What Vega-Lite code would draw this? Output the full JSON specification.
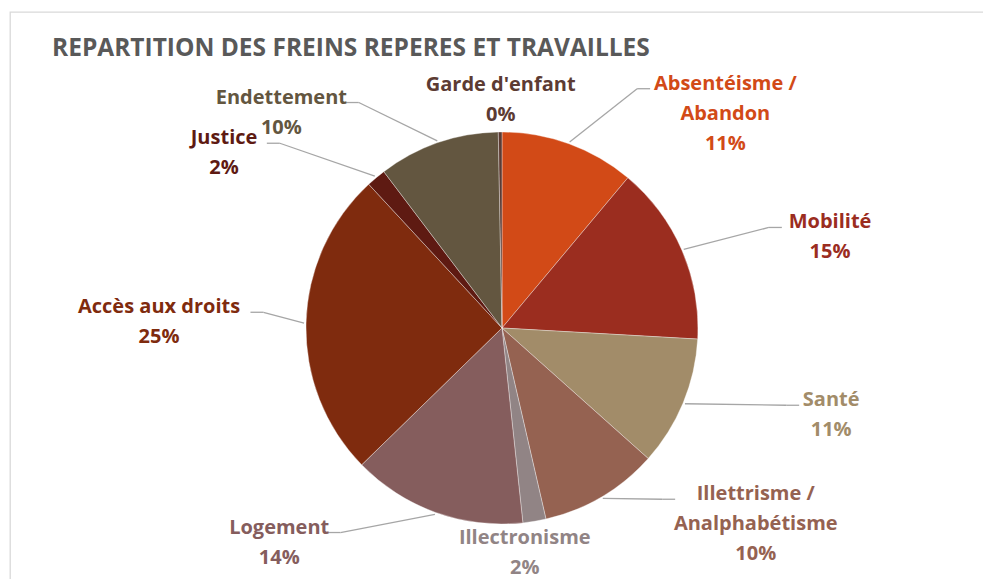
{
  "$schema": "https://vega.github.io/schema/vega-lite/v6.json",
  "width": 976,
  "height": 570,
  "autosize": {"type": "none"},
  "padding": {"left": 10, "top": 12, "right": -3, "bottom": -3},
  "background": "white",
  "config": {
    "view": {"stroke": "#D9D9D9", "strokeWidth": 1.3},
    "font": "Open Sans"
  },
  "title": {
    "text": "REPARTITION DES FREINS REPERES ET TRAVAILLES",
    "anchor": "start",
    "frame": "group",
    "dx": 42,
    "offset": -68,
    "baseline": "alphabetic",
    "font": "Open Sans",
    "fontSize": 24.5,
    "fontWeight": "bold",
    "color": "#595959"
  },
  "data": {
    "values": [
      {"rang": 1, "nom": "Absentéisme /\nAbandon", "v": 11.1},
      {"rang": 2, "nom": "Mobilité", "v": 14.8},
      {"rang": 3, "nom": "Santé", "v": 10.7},
      {"rang": 4, "nom": "Illettrisme /\nAnalphabétisme", "v": 9.8},
      {"rang": 5, "nom": "Illectronisme", "v": 1.9},
      {"rang": 6, "nom": "Logement", "v": 14.4},
      {"rang": 7, "nom": "Accès aux droits", "v": 25.4},
      {"rang": 8, "nom": "Justice", "v": 1.6},
      {"rang": 9, "nom": "Endettement", "v": 10.0},
      {"rang": 10, "nom": "Garde d'enfant", "v": 0.3}
    ]
  },
  "transform": [
    {"joinaggregate": [{"op": "sum", "field": "v", "as": "total"}]},
    {"window": [{"op": "sum", "field": "v", "as": "cum"}], "sort": [{"field": "rang", "order": "ascending"}], "frame": [null, 0]},
    {"calculate": "2 * PI * (datum.cum - datum.v / 2) / datum.total", "as": "a"},
    {"calculate": "sin(datum.a)", "as": "s"},
    {"calculate": "cos(datum.a)", "as": "c"},
    {"calculate": "datum.s < 0 ? -1 : 1", "as": "sg"},
    {"calculate": "abs(datum.s) < 0.25 ? abs(datum.s) * 0.4 : 0.47 + 0.53 * abs(datum.s)", "as": "f"},
    {"calculate": "datum.sg * 343 * datum.f", "as": "lx"},
    {"calculate": "datum.nom + '\\n' + format(datum.v / datum.total, '.0%')", "as": "lbl"},
    {"calculate": "length(split(datum.lbl, '\\n'))", "as": "nl"},
    {"calculate": "-228 * datum.c - (datum.nl - 1) * 15", "as": "ly"},
    {"calculate": "max(length(split(datum.nom, '\\n')[0]), length(peek(split(datum.nom, '\\n'))))", "as": "maxlen"},
    {"calculate": "datum.lx - datum.sg * (datum.maxlen * 5.4 + 5)", "as": "ex"},
    {"calculate": "datum.ly + 5", "as": "ey"},
    {"calculate": "datum.ex - datum.sg * 13", "as": "bx"},
    {"calculate": "198 * datum.s", "as": "px"},
    {"calculate": "-198 * datum.c", "as": "py"}
  ],
  "layer": [
    {
      "mark": {"type": "arc", "radius": 196, "stroke": "white", "strokeWidth": 0.7, "strokeOpacity": 0.5},
      "encoding": {
        "theta": {"field": "v", "type": "quantitative", "stack": true},
        "order": {"field": "rang", "type": "quantitative"},
        "color": {
          "field": "nom", "type": "nominal", "legend": null,
          "scale": {
            "domain": ["Absentéisme /\nAbandon", "Mobilité", "Santé", "Illettrisme /\nAnalphabétisme", "Illectronisme", "Logement", "Accès aux droits", "Justice", "Endettement", "Garde d'enfant"],
            "range": ["#D24A17", "#9B2D1F", "#A28C69", "#956251", "#918485", "#855D5D", "#7F2B0E", "#5E1A12", "#635640", "#5C3B33"]
          }
        },
        "x": {"datum": 0, "type": "quantitative", "scale": {"domain": [-492, 484], "nice": false, "zero": false}, "axis": null},
        "y": {"datum": 0, "type": "quantitative", "scale": {"domain": [-316, 254], "nice": false, "zero": false, "reverse": true}, "axis": null}
      }
    },
    {
      "transform": [{"filter": "abs(datum.s) > 0.25"}],
      "mark": {"type": "rule", "color": "#A6A6A6", "strokeWidth": 1.3},
      "encoding": {
        "x": {"field": "px", "type": "quantitative", "axis": null},
        "y": {"field": "py", "type": "quantitative", "axis": null},
        "x2": {"field": "bx"},
        "y2": {"field": "ey"}
      }
    },
    {
      "transform": [{"filter": "abs(datum.s) > 0.25"}],
      "mark": {"type": "rule", "color": "#A6A6A6", "strokeWidth": 1.3},
      "encoding": {
        "x": {"field": "bx", "type": "quantitative", "axis": null},
        "y": {"field": "ey", "type": "quantitative", "axis": null},
        "x2": {"field": "ex"},
        "y2": {"field": "ey"}
      }
    },
    {
      "mark": {"type": "text", "font": "Open Sans", "fontSize": 20, "fontWeight": "bold", "lineBreak": "\n", "lineHeight": 30, "align": "center", "baseline": "middle"},
      "encoding": {
        "x": {"field": "lx", "type": "quantitative", "axis": null},
        "y": {"field": "ly", "type": "quantitative", "axis": null},
        "text": {"field": "lbl"},
        "color": {"field": "nom", "type": "nominal", "legend": null}
      }
    }
  ]
}
